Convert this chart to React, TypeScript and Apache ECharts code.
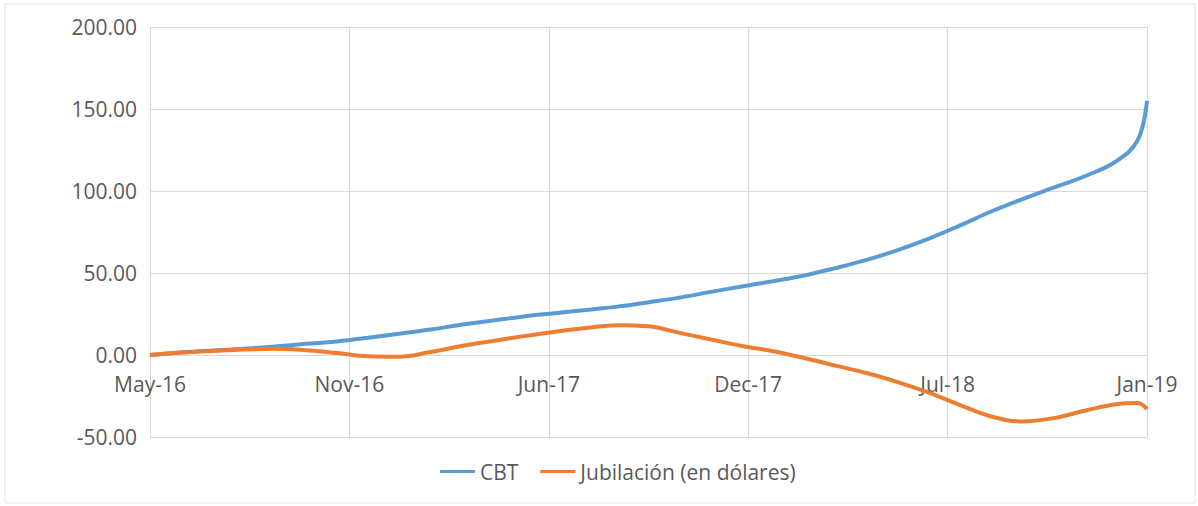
import React, { useEffect, useRef } from "react";
import * as echarts from "echarts";

// Month offsets from May-16 (0) to Jan-19 (32)
const monthOffsets = [
  0, 1, 2, 3, 4, 5, 6, 7, 8, 9, 10, 11, 12, 13, 14, 15, 16, 17, 18, 19, 20,
  21, 22, 23, 24, 25, 26, 27, 28, 29, 30, 31, 31.7, 32,
];
const cbt = [
  0, 1.5, 2.7, 3.8, 5.2, 6.8, 8.3, 10.5, 13, 15.5, 18.5, 21, 23.5, 25.5, 27.5,
  29.5, 32.2, 35, 38.5, 41.8, 45, 48.5, 53, 58, 64, 71, 79, 87.5, 95, 102, 109,
  118, 131, 155,
];
const jubilacion = [
  0, 1.5, 2.5, 3.3, 3.8, 2.9, 1.2, -0.7, -1.0, 1.8, 5.5, 8.5, 11.5, 14.2, 16.5,
  18.2, 17.5, 13.5, 9.5, 5.5, 2.3, -1.8, -6.5, -11, -16.5, -23, -30.5, -37.5,
  -40.5, -38.5, -34, -30, -29.3, -33,
];
const xTickLabels = ["May-16", "Nov-16", "Jun-17", "Dec-17", "Jul-18", "Jan-19"];
const seriesNames = ["CBT", "Jubilación (en dólares)"];

const FONT = "'Open Sans', sans-serif";
const TEXT = "#595959";
const GRID = "#d9d9d9";

export default function App() {
  const ref = useRef<HTMLDivElement>(null);
  useEffect(() => {
    if (!ref.current) return;
    const chart = echarts.init(ref.current, undefined, { renderer: "svg" });
    const step = 32 / (xTickLabels.length - 1);
    chart.setOption({
      animation: false,
      backgroundColor: "#ffffff",
      textStyle: { fontFamily: FONT },
      graphic: [
        {
          type: "rect",
          shape: { x: 5, y: 4, width: 1190, height: 499 },
          style: { fill: "none", stroke: "#e4e4e4", lineWidth: 1 },
          silent: true,
        },
      ],
      grid: { left: 150, right: 51, top: 27, bottom: 69 },
      legend: {
        left: 435,
        top: 456,
        icon: "rect",
        itemWidth: 35,
        itemHeight: 3,
        itemGap: 22,
        textStyle: { fontFamily: FONT, fontSize: 21, color: TEXT },
        data: seriesNames,
      },
      xAxis: {
        type: "value",
        min: 0,
        max: 32,
        interval: step,
        position: "bottom",
        offset: -82,
        axisLine: { show: true, onZero: false, lineStyle: { color: GRID, width: 1 } },
        axisTick: { show: false },
        splitLine: { show: true, lineStyle: { color: GRID, width: 1 } },
        axisLabel: {
          margin: 18,
          fontFamily: FONT,
          fontSize: 21,
          color: TEXT,
          formatter: (v: number) => xTickLabels[Math.round(v / step)] ?? "",
        },
      },
      yAxis: {
        type: "value",
        min: -50,
        max: 200,
        interval: 50,
        axisLine: { show: false },
        axisTick: { show: false },
        splitLine: { show: true, lineStyle: { color: GRID, width: 1 } },
        axisLabel: {
          margin: 13,
          fontFamily: FONT,
          fontSize: 21,
          color: TEXT,
          formatter: (v: number) => v.toFixed(2),
        },
      },
      series: [
        {
          name: seriesNames[0],
          type: "line",
          smooth: 0.4,
          showSymbol: false,
          data: monthOffsets.map((m, i) => [m, cbt[i]]),
          lineStyle: { color: "#5b9bd5", width: 4 },
          itemStyle: { color: "#5b9bd5" },
        },
        {
          name: seriesNames[1],
          type: "line",
          smooth: 0.4,
          showSymbol: false,
          data: monthOffsets.map((m, i) => [m, jubilacion[i]]),
          lineStyle: { color: "#ed7d31", width: 4 },
          itemStyle: { color: "#ed7d31" },
        },
      ],
    });
    return () => chart.dispose();
  }, []);
  return (
    <div
      ref={ref}
      style={{ position: "absolute", left: 0, top: 0, width: 1198, height: 506 }}
    />
  );
}
